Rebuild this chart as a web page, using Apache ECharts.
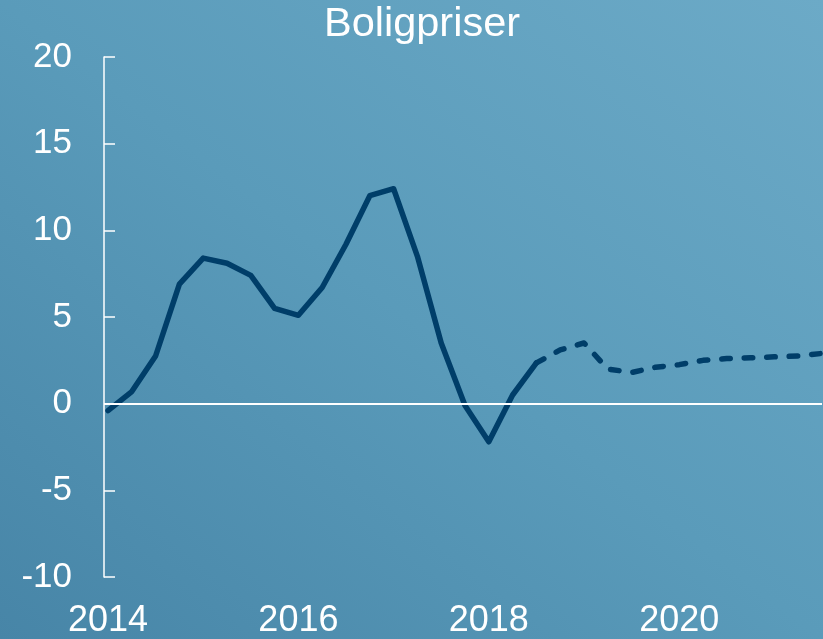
<!DOCTYPE html>
<html>
<head>
<meta charset="utf-8">
<script src="https://cdn.jsdelivr.net/npm/echarts@6/dist/echarts.min.js"></script>
<style>
  html, body { margin: 0; padding: 0; }
  #chartdiv {
    width: 823px; height: 639px;
    background: linear-gradient(to top right, #4785a7 0%, #5a9bba 50%, #6caac7 100%);
  }
</style>
</head>
<body>
<div id="chartdiv"></div>
<script>
// quarterly observations, 2014 Q1 - 2021 Q3
var quarters = ['2014Q1','2014Q2','2014Q3','2014Q4','2015Q1','2015Q2','2015Q3','2015Q4',
                '2016Q1','2016Q2','2016Q3','2016Q4','2017Q1','2017Q2','2017Q3','2017Q4',
                '2018Q1','2018Q2','2018Q3','2018Q4','2019Q1','2019Q2','2019Q3','2019Q4',
                '2020Q1','2020Q2','2020Q3','2020Q4','2021Q1','2021Q2','2021Q3'];

// actual (solid), up to 2018 Q3
var actual = [-0.4, 0.7, 2.75, 6.9, 8.4, 8.1, 7.4, 5.5,
              5.1, 6.7, 9.2, 12.0, 12.4, 8.5, 3.5, -0.1,
              -2.2, 0.5, 2.35];

// forecast (dashed), from 2018 Q3
var forecast = [2.35, 3.1, 3.5, 2.0, 1.8, 2.1, 2.25, 2.5,
                2.6, 2.65, 2.7, 2.75, 2.9];

var yearTicks = [2014, 2016, 2018, 2020];

function qx(label) {
    return parseInt(label.slice(0, 4)) + (parseInt(label.slice(5)) - 1) * 0.25;
}

var actualData = actual.map(function(v, i) { return [qx(quarters[i]), v]; });
var offset = actual.length - 1;
var forecastData = forecast.map(function(v, i) { return [qx(quarters[offset + i]), v]; });

var lineColor = '#003e69';

var options = {
    animation: false,
    title: {
        text: 'Boligpriser',
        left: 324,
        top: 4,
        padding: 0,
        textStyle: {
            color: '#fff',
            fontFamily: 'Liberation Sans',
            fontWeight: 'normal',
            fontSize: 41.5
        }
    },
    grid: {
        left: 104,
        right: 1,
        top: 57,
        bottom: 60
    },
    xAxis: {
        type: 'value',
        min: 2013.958,
        max: 2021.5,
        axisLine: { show: false },
        axisTick: { show: false },
        splitLine: { show: false },
        axisLabel: {
            customValues: yearTicks,
            color: '#fff',
            fontFamily: 'Liberation Sans',
            fontSize: 36,
            margin: 26,
            formatter: function(v) { return String(v); }
        }
    },
    yAxis: {
        type: 'value',
        min: -10,
        max: 20,
        interval: 5,
        axisLine: {
            show: true,
            onZero: false,
            lineStyle: { color: '#fff', width: 1.5 }
        },
        axisTick: {
            show: true,
            inside: true,
            length: 11,
            lineStyle: { color: '#fff', width: 1.5 }
        },
        splitLine: { show: false },
        axisLabel: {
            color: '#fff',
            fontFamily: 'Liberation Sans',
            fontSize: 35,
            margin: 32
        }
    },
    series: [
        {
            name: 'Faktisk',
            type: 'line',
            data: actualData,
            showSymbol: false,
            lineStyle: { color: lineColor, width: 5.5, join: 'round', cap: 'round' },
            markLine: {
                silent: true,
                symbol: 'none',
                label: { show: false },
                lineStyle: { color: '#fff', width: 2, type: 'solid' },
                data: [{ yAxis: 0 }]
            },
            z: 3
        },
        {
            name: 'Prognose',
            type: 'line',
            data: forecastData,
            showSymbol: false,
            lineStyle: { color: lineColor, width: 5.5, type: [8.5, 14], cap: 'round', join: 'round' },
            z: 3
        }
    ]
};

var chartDom = document.getElementById('chartdiv');
var plot = echarts.init(chartDom);
plot.setOption(options);
</script>
</body>
</html>
